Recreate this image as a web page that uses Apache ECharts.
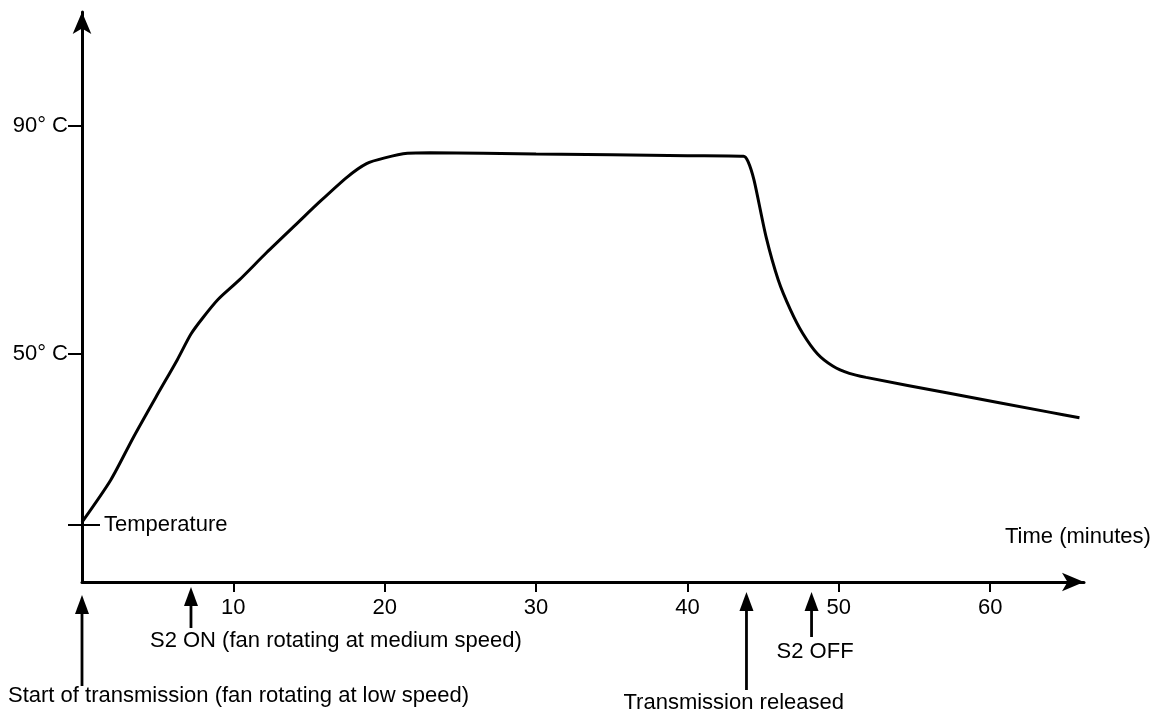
<!DOCTYPE html>
<html><head><meta charset="utf-8">
<script src="https://cdn.jsdelivr.net/npm/echarts@6/dist/echarts.min.js"></script>
<style>html,body{margin:0;padding:0;background:#fff}#c{width:1163px;height:720px}</style>
</head><body><div id="c"></div>
<script>
// ---- data ----
const timeMinutes = [0, 1.9, 3.4, 4.9, 6.3, 7.2, 8.0, 9.0, 10.4, 12.2, 14.4, 15.5, 17.5, 18.8, 20.0, 21.5, 23, 30, 40, 43.7, 44.0, 44.4, 45.2, 46.0, 46.8, 47.6, 48.6, 49.6, 50.7, 51.8, 57.3, 63.9, 65.9];
const temperatureC = [20.5, 27.9, 35.4, 42.5, 49, 53.5, 56.4, 59.6, 63, 67.8, 73.4, 76.2, 81, 83.4, 84.4, 85.2, 85.3, 85.1, 84.8, 84.7, 83.8, 80.5, 70.5, 63, 57.8, 53.7, 50.0, 47.9, 46.6, 45.9, 43.1, 39.8, 38.8];
const xTickValues = [10, 20, 30, 40, 50, 60];
const yTickValues = [50, 90];
const yTickLabels = ['50° C', '90° C'];
const temperatureMarkValue = 20;
const temperatureLabel = 'Temperature';
const xAxisName = 'Time (minutes)';
const eventTimes = [0, 7.2, 43.9, 48.2];
const eventLabels = ['Start of transmission (fan rotating at low speed)', 'S2 ON (fan rotating at medium speed)', 'Transmission released', 'S2 OFF'];

// ---- layout / style (not data) ----
const FONT = '"Liberation Sans", Arial, sans-serif';
const FS = 22;
const X_MIN = 0, X_MAX = 66.2, Y_MIN = 10, Y_MAX = 110;
const eventLayout = [
  {tipGap: 13, shaftEnd: 686, labelDx: -74, labelY: 696},
  {tipGap: 5,  shaftEnd: 628, labelDx: -41, labelY: 641},
  {tipGap: 10, shaftEnd: 690, labelDx: -123, labelY: 703},
  {tipGap: 10, shaftEnd: 637, labelDx: -35, labelY: 652}
];

const chart = echarts.init(document.getElementById('c'));
const seriesData = timeMinutes.map((t, i) => [t, temperatureC[i]]);
const txt = {color: '#000', fontFamily: FONT, fontSize: FS};

chart.setOption({
  animation: false,
  backgroundColor: '#fff',
  grid: {left: 82, right: 79, top: 12, bottom: 138},
  xAxis: {
    type: 'value', min: X_MIN, max: X_MAX,
    axisLine: {show: true, onZero: false, symbol: ['none', 'arrow'], symbolSize: [14, 22], lineStyle: {color: '#000', width: 3}},
    axisTick: {show: true, customValues: xTickValues, length: 10, lineStyle: {color: '#000', width: 2}},
    axisLabel: Object.assign({customValues: xTickValues, margin: 15}, txt),
    splitLine: {show: false}
  },
  yAxis: [{
    type: 'value', min: Y_MIN, max: Y_MAX, position: 'left',
    axisLine: {show: true, onZero: false, symbol: ['none', 'arrow'], symbolSize: [14, 22], lineStyle: {color: '#000', width: 3}},
    axisTick: {show: true, customValues: yTickValues.concat([temperatureMarkValue]), length: 14, lineStyle: {color: '#000', width: 2}},
    axisLabel: Object.assign({customValues: yTickValues, margin: 14,
      formatter: v => yTickLabels[yTickValues.indexOf(v)]}, txt),
    splitLine: {show: false}
  }, {
    type: 'value', min: Y_MIN, max: Y_MAX, position: 'left', offset: 0,
    axisLine: {show: false},
    axisTick: {show: true, inside: true, customValues: [temperatureMarkValue], length: 18, lineStyle: {color: '#000', width: 2}},
    axisLabel: Object.assign({show: true, inside: true, customValues: [temperatureMarkValue], margin: 22,
      formatter: () => temperatureLabel}, txt),
    splitLine: {show: false}
  }],
  series: [{
    type: 'line', data: seriesData, showSymbol: false, smooth: 0.25,
    lineStyle: {color: '#000', width: 3}, clip: false
  }]
});

// ---- annotations drawn through the chart's scales ----
const axisY = chart.convertToPixel({gridIndex: 0}, [X_MIN, Y_MIN])[1];
const axisEnd = chart.convertToPixel({gridIndex: 0}, [X_MAX, Y_MIN]);
const graphics = [];
eventTimes.forEach((t, i) => {
  const x = chart.convertToPixel({gridIndex: 0}, [t, Y_MIN])[0];
  const L = eventLayout[i];
  const tip = axisY + L.tipGap;
  graphics.push({type: 'polygon', shape: {points: [[x, tip], [x - 7, tip + 19], [x + 7, tip + 19]]}, style: {fill: '#000'}});
  graphics.push({type: 'line', shape: {x1: x, y1: tip + 14, x2: x, y2: L.shaftEnd}, style: {stroke: '#000', lineWidth: 2.8}});
  graphics.push({type: 'text', x: x + L.labelDx, y: L.labelY,
    style: {text: eventLabels[i], fill: '#000', font: FS + 'px ' + FONT, textVerticalAlign: 'middle', textAlign: 'left'}});
});
graphics.push({type: 'text', x: axisEnd[0] - 79, y: axisY - 45,
  style: {text: xAxisName, fill: '#000', font: FS + 'px ' + FONT, textVerticalAlign: 'middle', textAlign: 'left'}});
chart.setOption({graphic: graphics});
</script>
</body></html>
